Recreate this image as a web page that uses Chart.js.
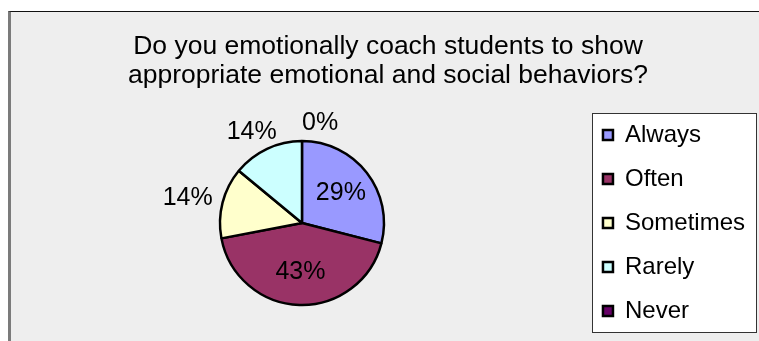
<!DOCTYPE html>
<html>
<head>
<meta charset="utf-8">
<script src="https://cdn.jsdelivr.net/npm/chart.js@4"></script>
<style>
  html, body { margin: 0; padding: 0; background: #fff; overflow: hidden; }
  #frame {
    position: absolute; left: 8px; top: 11px; width: 760px; height: 340px;
    border-left: 3px solid #7b7b7b; border-top: 1px solid #111;
    background: #eeeeee; overflow: hidden;
  }
  #chart { display: block; }
</style>
</head>
<body>
<div id="frame"><canvas id="chart" width="748" height="350"></canvas></div>
<script>
const titleLines = ['Do you emotionally coach students to show', 'appropriate emotional and social behaviors?'];
const answers = ['Always', 'Often', 'Sometimes', 'Rarely', 'Never'];
const percents = [29, 43, 14, 14, 0];
const sliceColors = ['#9999ff', '#993366', '#ffffcc', '#ccffff', '#660066'];

const FONT = '"Liberation Sans", Arial, sans-serif';

// white box with a thin border behind the legend column
const legendFrame = {
  id: 'legendFrame',
  beforeDraw(chart) {
    const lg = chart.legend;
    if (!lg || !lg.columnSizes) return;
    const pad = lg.options.labels.padding;
    const col = lg.columnSizes[0];
    const x0 = lg.left + pad;
    const y0 = (lg.top + pad + lg.bottom - col.height) / 2;
    const ctx = chart.ctx;
    const left = Math.round(x0 - 11) + 0.5;
    const top = Math.round(y0 - 10) + 0.5;
    const w = Math.round(col.width + 22);
    const h = Math.round(col.height - pad + 19);
    ctx.save();
    ctx.fillStyle = '#fff';
    ctx.fillRect(left, top, w, h);
    ctx.strokeStyle = '#333';
    ctx.lineWidth = 1;
    ctx.strokeRect(left, top, w, h);
    ctx.restore();
  }
};

// percentage labels: big slices inside, small ones just outside the rim
const pctLabels = {
  id: 'pctLabels',
  afterDatasetsDraw(chart) {
    const ctx = chart.ctx;
    const meta = chart.getDatasetMeta(0);
    ctx.save();
    ctx.font = '25px ' + FONT;
    ctx.fillStyle = '#000';
    ctx.textBaseline = 'middle';
    meta.data.forEach((arc, i) => {
      const v = percents[i];
      const p = arc.getProps(['x', 'y', 'startAngle', 'endAngle', 'outerRadius'], true);
      const mid = (p.startAngle + p.endAngle) / 2;
      const cos = Math.cos(mid), sin = Math.sin(mid);
      const text = v + '%';
      const w = ctx.measureText(text).width;
      let lx, ly;
      ctx.textAlign = 'center';
      if (v >= 20) {
        lx = p.x + cos * p.outerRadius * 0.6;
        ly = p.y + sin * p.outerRadius * 0.6;
      } else {
        const r = p.outerRadius + 18;
        lx = p.x + cos * r;
        ly = p.y + sin * r;
        if (v === 0) {
          ctx.textAlign = 'left';
        } else {
          lx += cos * w * 0.36;
        }
      }
      ctx.fillText(text, lx, ly);
    });
    ctx.restore();
  }
};

new Chart(document.getElementById('chart'), {
  type: 'pie',
  data: {
    labels: answers,
    datasets: [{
      data: percents,
      backgroundColor: sliceColors,
      borderColor: '#000',
      borderWidth: 2.5,
      radius: 82
    }]
  },
  options: {
    responsive: false,
    animation: false,
    devicePixelRatio: 1,
    radius: 82,
    layout: { padding: { left: 10, right: 4, top: 0, bottom: 18 } },
    plugins: {
      title: {
        display: true,
        text: titleLines,
        color: '#000',
        font: { family: FONT, size: 26.5, weight: 'normal', lineHeight: 1.1 },
        padding: { top: 20, bottom: 11.7 }
      },
      legend: {
        position: 'right',
        fullSize: false,
        labels: {
          color: '#000',
          font: { family: FONT, size: 24 },
          boxWidth: 10,
          boxHeight: 10,
          padding: 20
        }
      },
      tooltip: { enabled: false }
    }
  },
  plugins: [legendFrame, pctLabels]
});
</script>
</body>
</html>
